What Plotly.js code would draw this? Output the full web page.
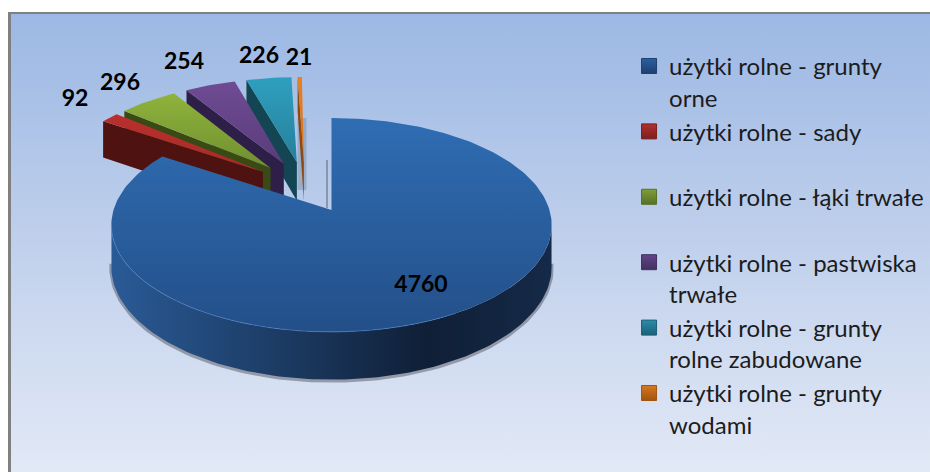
<!DOCTYPE html>
<html><head><meta charset="utf-8">
<script src="https://cdn.plot.ly/plotly-3.0.1.min.js"></script>
<style>html,body{margin:0;padding:0;background:#fff}#c{width:930px;height:472px}</style>
</head><body><div id="c"></div>
<script>
const categories = ["użytki rolne - grunty<br>orne","użytki rolne - sady<br>&nbsp;","użytki rolne - łąki trwałe<br>&nbsp;","użytki rolne - pastwiska<br>trwałe","użytki rolne - grunty<br>rolne zabudowane","użytki rolne - grunty<br>wodami"];
const values = [4760,92,296,254,226,21];
const topLight = ["#2f6db3","#b9302e","#8fb33c","#6f4b93","#2f9fbf","#ea7f1f"];
const topDark  = ["#234f88","#a82a28","#6f8f30","#593c7b","#25809b","#d9701a"];
const wallCol  = ["#0f1f36","#4e1210","#3a4a14","#2e1f48","#134552","#8a4a14"];
const legendCol= ["#2c5f9e","#b2302e","#7f9f35","#63448a","#2a8cab","#d9761e"];
const legendDark=["#1d4070","#7a1f1d","#56702a","#42305f","#1c6076","#a05510"];
const labelX = [421,75,120,184,259,299];
const labelY = [286,100,84,63,57,59];

// projection of the tilted pie
const cx=331.5, cy=210, R=218, A=104.9, K=0.14, PULL=0.25, DEPTH=41, STEP=1.5, SHEAR=0.06, STRETCH=1.04;
const total = values.reduce((a,b)=>a+b,0);
const rad = d=>d*Math.PI/180;
const proj=(u,v)=>{const q=1-K*v;return [cx+R*u/q, cy+A*v/q, DEPTH/q];};
let acc=0;
const slices = values.map((val,i)=>{const a0=acc/total*360;acc+=val;return {a0,a1:acc/total*360,i};});
const mid=s=>rad((s.a0+s.a1)/2);
const base=mid(slices[0]);
const offs = slices.map(s=>[PULL*(Math.sin(mid(s))-Math.sin(base)), PULL*(-Math.cos(mid(s))+Math.cos(base))]);
const at=(s,deg,r)=>{const o=offs[s.i];const p=proj(o[0]+r*Math.sin(rad(deg)), o[1]-r*Math.cos(rad(deg)));
  if(s.i>0){p[0]+=SHEAR*(p[1]-cy);p[1]=cy+(p[1]-cy)*STRETCH;}
  return p;};
const arc=(s,a,b)=>{const out=[];const n=Math.max(2,Math.ceil(Math.abs(b-a)/STEP));for(let j=0;j<=n;j++)out.push(at(s,a+(b-a)*j/n,1));return out;};

const traces=[];
const poly=(pts,extra)=>Object.assign({type:'scatter',mode:'lines',x:pts.map(p=>p[0]),y:pts.map(p=>p[1]),fill:'toself',line:{width:0},hoverinfo:'skip',showlegend:false},extra);

// background panel
traces.push(poly([[10,14],[930,14],[930,472],[10,472],[10,14]],{fillcolor:'#bbb',fillgradient:{type:'vertical',start:14,stop:472,colorscale:[[0,'#9cb8e4'],[0.5,'#c0d0ec'],[1,'#e2e9f6']]}}));

// faint ghost shadows behind the thin slice and the big slice edge
traces.push({type:'scatter',mode:'lines',x:[302,302],y:[118,190],line:{color:'rgba(110,120,140,0.35)',width:9},hoverinfo:'skip',showlegend:false});
traces.push({type:'scatter',mode:'lines',x:[327,327],y:[160,208],line:{color:'rgba(90,100,120,0.5)',width:2},hoverinfo:'skip',showlegend:false});

// small slices, back to front
for(const s of slices.slice(1).reverse()){
  const i=s.i, c=at(s,s.a0,1), o=at(s,s.a0,0);
  const wall=[[c[0],c[1]],[o[0],o[1]],[o[0],o[1]+o[2]],[c[0],c[1]+c[2]],[c[0],c[1]]];
  traces.push(poly(wall,{fillcolor:wallCol[i]}));
  const pts=arc(s,s.a0,s.a1).map(p=>[p[0],p[1]]);
  pts.push([o[0],o[1]]);pts.push(pts[0]);
  const ys=pts.map(p=>p[1]);
  traces.push(poly(pts,{fillcolor:topLight[i],fillgradient:{type:'vertical',start:Math.min(...ys),stop:Math.max(...ys),colorscale:[[0,topLight[i]],[1,topDark[i]]]}}));
}

// big slice: front wall with soft shadow, then top face
const big=slices[0];
const front=arc(big,96,264);
const bottom=front.map(p=>[p[0],p[1]+p[2]]);
traces.push({type:'scatter',mode:'lines',x:bottom.map(p=>p[0]),y:bottom.map(p=>p[1]+1),line:{color:'rgba(70,70,80,0.45)',width:4},hoverinfo:'skip',showlegend:false});
const wallPts=front.map(p=>[p[0],p[1]]).concat(bottom.slice().reverse());
wallPts.push(wallPts[0]);
traces.push(poly(wallPts,{fillcolor:'#1a3558',fillgradient:{type:'horizontal',start:112,stop:552,colorscale:[[0,'#2a5a96'],[0.35,'#1d3e68'],[0.72,'#0f1f36'],[1,'#152a48']]}}));
const topPts=arc(big,big.a0,big.a1).map(p=>[p[0],p[1]]);
const ctr=at(big,0,0);topPts.push([ctr[0],ctr[1]]);topPts.push(topPts[0]);
traces.push(poly(topPts,{fillcolor:topLight[0],fillgradient:{type:'vertical',start:118,stop:334,colorscale:[[0,'#2f6db3'],[1,'#234f88']]}}));
const rim=arc(big,150,262);
traces.push({type:'scatter',mode:'lines',x:rim.map(p=>p[0]),y:rim.map(p=>p[1]),line:{color:'rgba(80,135,205,0.55)',width:1},hoverinfo:'skip',showlegend:false});

// data labels
traces.push({type:'scatter',mode:'text',x:labelX,y:labelY,text:values.map(String),textposition:'middle center',textfont:{family:'Lato, sans-serif',size:23,color:'#000',weight:700},hoverinfo:'skip',showlegend:false});

// legend keys
categories.forEach((n,i)=>traces.push({type:'scatter',mode:'markers',x:[null],y:[null],name:n,legendgroup:'g'+i,marker:{symbol:'square',size:15,color:legendCol[i],gradient:{type:'vertical',color:legendDark[i]},line:{width:1,color:legendDark[i]}},hoverinfo:'skip'}));

Plotly.newPlot('c',traces,{
  width:930,height:472,margin:{l:0,r:0,t:0,b:0},
  paper_bgcolor:'#fff',plot_bgcolor:'rgba(0,0,0,0)',
  xaxis:{range:[0,930],visible:false,fixedrange:true},
  yaxis:{range:[472,0],visible:false,fixedrange:true},
  showlegend:true,
  legend:{x:0.6764,y:0.907,xanchor:'left',yanchor:'top',bgcolor:'rgba(0,0,0,0)',tracegroupgap:0,valign:'top',itemsizing:'trace',font:{family:'Lato, sans-serif',size:24,color:'#1c1c1c'}},
  shapes:[{type:'line',xref:'paper',yref:'paper',x0:9.5/930,x1:9.5/930,y0:0,y1:1-13/472,line:{color:'#808080',width:3}},
          {type:'line',xref:'paper',yref:'paper',x0:8/930,x1:1,y0:1-13/472,y1:1-13/472,line:{color:'#808080',width:2}}]
},{displayModeBar:false,staticPlot:true});
</script></body></html>
